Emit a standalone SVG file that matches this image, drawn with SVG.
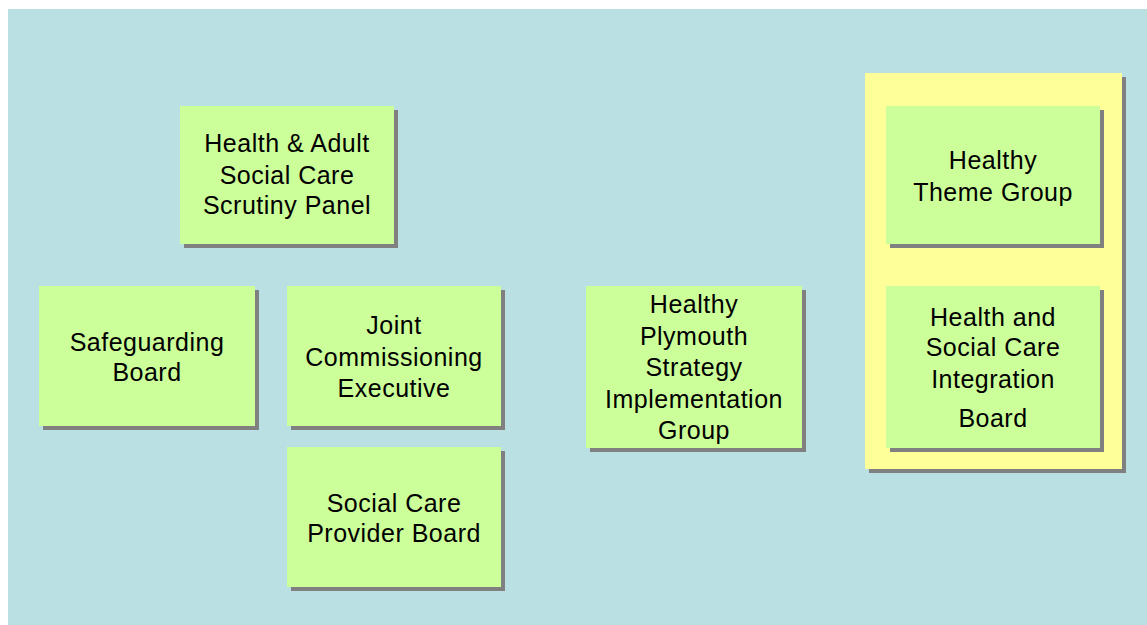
<svg xmlns="http://www.w3.org/2000/svg" width="1147" height="625" viewBox="0 0 1147 625">
<style>
.bg{fill:#FFFFFF}
.canvas{fill:#BAE0E3}
.sh{fill:#808080}
.box{fill:#CCFF99}
.panel{fill:#FFFF99}
.t{font-family:"Liberation Sans",Arial,sans-serif;font-size:25px;letter-spacing:0.5px;fill:#000;text-anchor:middle}
</style>
<rect class="bg" x="0" y="0" width="1147" height="625"/>
<rect class="canvas" x="8" y="9" width="1139" height="616"/>
<g id="panel">
<rect class="sh" x="869" y="77" width="257" height="396"/>
<rect class="panel" x="865" y="73" width="257" height="396"/>
</g>
<g id="node-scrutiny">
<rect class="sh" x="184" y="110" width="214" height="138"/>
<rect class="box" x="180" y="106" width="214" height="138"/>
<text class="t" x="287"><tspan x="287" y="152">Health &amp; Adult</tspan><tspan x="287" y="184">Social Care</tspan><tspan x="287" y="214">Scrutiny Panel</tspan></text>
</g>
<g id="node-safeguarding">
<rect class="sh" x="43" y="290" width="216" height="140"/>
<rect class="box" x="39" y="286" width="216" height="140"/>
<text class="t"><tspan x="147" y="351">Safeguarding</tspan><tspan x="147" y="381">Board</tspan></text>
</g>
<g id="node-joint">
<rect class="sh" x="291" y="290" width="214" height="140"/>
<rect class="box" x="287" y="286" width="214" height="140"/>
<text class="t"><tspan x="394" y="334">Joint</tspan><tspan x="394" y="366">Commissioning</tspan><tspan x="394" y="397">Executive</tspan></text>
</g>
<g id="node-provider">
<rect class="sh" x="291" y="451" width="214" height="140"/>
<rect class="box" x="287" y="447" width="214" height="140"/>
<text class="t"><tspan x="394" y="512">Social Care</tspan><tspan x="394" y="542">Provider Board</tspan></text>
</g>
<g id="node-plymouth">
<rect class="sh" x="590" y="290" width="216" height="162"/>
<rect class="box" x="586" y="286" width="216" height="162"/>
<text class="t"><tspan x="694" y="313">Healthy</tspan><tspan x="694" y="345">Plymouth</tspan><tspan x="694" y="376">Strategy</tspan><tspan x="694" y="408">Implementation</tspan><tspan x="694" y="439">Group</tspan></text>
</g>
<g id="node-theme">
<rect class="sh" x="890" y="110" width="214" height="138"/>
<rect class="box" x="886" y="106" width="214" height="138"/>
<text class="t"><tspan x="993" y="169">Healthy</tspan><tspan x="993" y="201">Theme Group</tspan></text>
</g>
<g id="node-integration">
<rect class="sh" x="890" y="290" width="214" height="162"/>
<rect class="box" x="886" y="286" width="214" height="162"/>
<text class="t"><tspan x="993" y="326">Health and</tspan><tspan x="993" y="356">Social Care</tspan><tspan x="993" y="388">Integration</tspan><tspan x="993" y="427">Board</tspan></text>
</g>
<g id="connectors"></g>
</svg>
